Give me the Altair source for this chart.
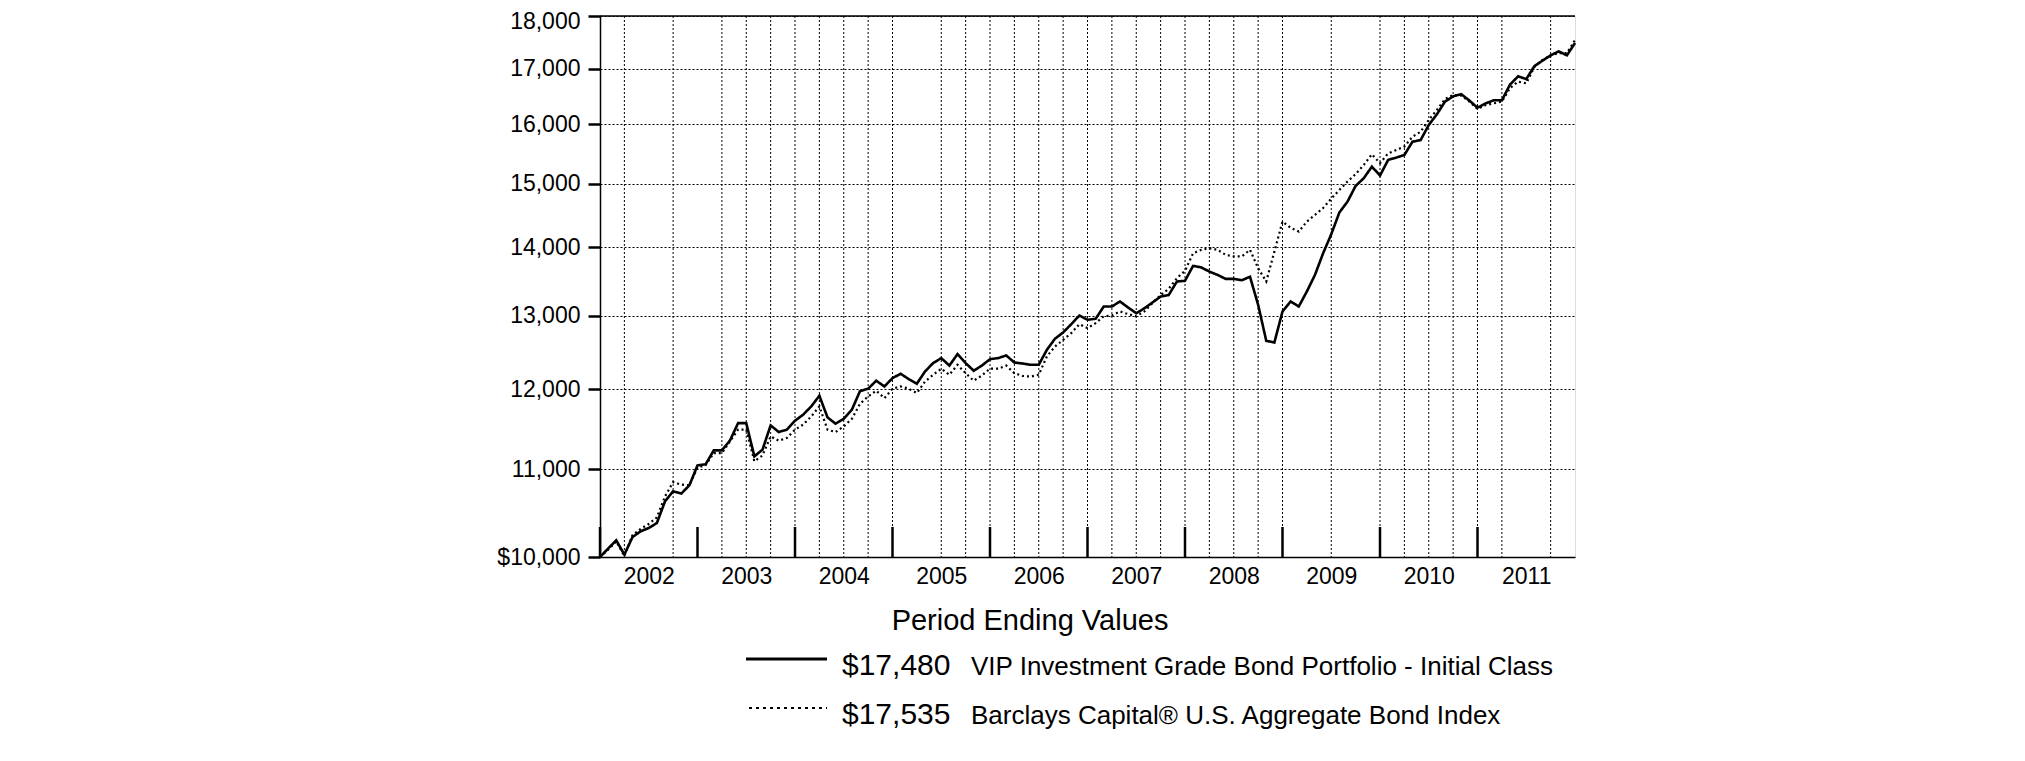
import altair as alt
import pandas as pd

# Month-end dates Dec 2001 .. Dec 2011
months = [p.strftime("%Y-%m") for p in pd.period_range("2001-12", "2011-12", freq="M")]

fund = [10000, 10092, 10183, 10026, 10219, 10283, 10320, 10376, 10623, 10740, 10713, 10810,
        11047, 11060, 11228, 11228, 11350, 11566, 11566, 11155, 11237, 11537, 11454, 11484,
        11596, 11672, 11778, 11915, 11638, 11558, 11620, 11736, 11975, 12006, 12111, 12036,
        12145, 12203, 12132, 12072, 12233, 12345, 12412, 12312, 12466, 12345, 12243, 12312,
        12398, 12412, 12448, 12353, 12340, 12322, 12322, 12525, 12676, 12763, 12878, 13000,
        12940, 12954, 13128, 13128, 13200, 13113, 13033, 13102, 13186, 13271, 13293, 13489,
        13500, 13721, 13697, 13636, 13587, 13528, 13528, 13508, 13560, 13153, 12648, 12625,
        13057, 13200, 13128, 13344, 13588, 13910, 14200, 14540, 14712, 14966, 15091, 15283,
        15135, 15394, 15433, 15478, 15702, 15730, 15990, 16176, 16402, 16494, 16535, 16420,
        16293, 16370, 16425, 16425, 16707, 16859, 16807, 17046, 17148, 17246, 17322, 17246,
        17480]

index = [10000, 10080, 10170, 10010, 10240, 10310, 10365, 10440, 10680, 10848, 10818, 10810,
         11020, 11050, 11195, 11195, 11340, 11484, 11484, 11095, 11166, 11400, 11347, 11380,
         11484, 11547, 11650, 11778, 11484, 11454, 11524, 11620, 11810, 11906, 11980, 11884,
         12006, 12036, 12006, 11950, 12100, 12190, 12270, 12190, 12322, 12210, 12111, 12180,
         12270, 12270, 12312, 12210, 12175, 12165, 12190, 12435, 12570, 12660, 12754, 12878,
         12823, 12892, 12990, 13000, 13057, 13020, 12990, 13057, 13177, 13293, 13383, 13538,
         13647, 13910, 13962, 13987, 13962, 13886, 13862, 13862, 13962, 13686, 13489, 13935,
         14397, 14302, 14241, 14397, 14503, 14610, 14760, 14900, 15036, 15160, 15311, 15489,
         15340, 15505, 15560, 15620, 15788, 15873, 16077, 16253, 16449, 16520, 16510, 16402,
         16270, 16340, 16370, 16402, 16645, 16760, 16730, 17030, 17160, 17246, 17290, 17290,
         17535]

series_names = ["VIP Investment Grade Bond Portfolio -  Initial Class",
                "Barclays Capital\u00ae U.S. Aggregate Bond Index"]
final_values = ["$17,480", "$17,535"]

years = [2002, 2003, 2004, 2005, 2006, 2007, 2008, 2009, 2010, 2011]
y_ticks = [10000, 11000, 12000, 13000, 14000, 15000, 16000, 17000, 18000]
# months carrying a dotted vertical gridline in the original
vgrid_months = ["2002-03", "2002-09", "2003-03", "2003-06", "2003-09", "2003-12", "2004-03",
                "2004-06", "2004-09", "2004-12", "2005-06", "2005-09", "2005-12", "2006-03",
                "2006-06", "2006-09", "2006-12", "2007-03", "2007-06", "2007-09", "2007-12",
                "2008-03", "2008-06", "2008-09", "2008-12", "2009-06", "2009-12", "2010-03",
                "2010-06", "2010-09", "2010-12", "2011-03", "2011-09"]
year_end_months = ["2001-12", "2002-12", "2003-12", "2004-12", "2005-12", "2006-12",
                   "2007-12", "2008-12", "2009-12", "2010-12"]

FONT = "Arial, Liberation Sans, Helvetica, sans-serif"
W, H = 975, 541

midx = {m: i for i, m in enumerate(months)}
df = pd.DataFrame({
    "m": list(range(len(months))) * 2,
    "value": fund + index,
    "series": [series_names[0]] * len(fund) + [series_names[1]] * len(index),
})
grid_df = pd.DataFrame({"m": [midx[m] for m in vgrid_months]})
tick_df = pd.DataFrame({"m": [midx[m] for m in year_end_months]})
label_vals = [midx[f"{y}-06"] for y in years]

xscale = alt.Scale(domain=[0, len(months) - 1], nice=False, zero=False)
yscale = alt.Scale(type="log", domain=[10000, 18000], nice=False)

x_axis = alt.Axis(values=label_vals, labelExpr="toString(2001 + (datum.value + 6) / 12)",
                  ticks=False, grid=False, domainColor="black", domainWidth=1.5,
                  labelFont=FONT, labelFontSize=23, labelColor="black", labelPadding=8,
                  title=None, labelFlush=False)
y_axis = alt.Axis(values=y_ticks,
                  labelExpr="datum.value == 10000 ? '$10,000' : format(datum.value, ',')",
                  labelOffset={"condition": {"test": "datum.value == 18000", "value": 5},
                               "value": 0},
                  tickSize=12, tickWidth=2.5, tickColor="black", domainColor="black",
                  domainWidth=1.5, labelFont=FONT, labelFontSize=23, labelColor="black",
                  labelPadding=8, grid=True, gridDash=[2, 2], gridColor="black",
                  gridWidth=1, title=None)

base = alt.Chart(df)

lines = base.mark_line(color="black").encode(
    x=alt.X("m:Q", scale=xscale, axis=x_axis),
    y=alt.Y("value:Q", scale=yscale, axis=y_axis),
    strokeDash=alt.StrokeDash("series:N", scale=alt.Scale(domain=series_names,
                              range=[[1, 0], [2, 3]]), legend=None),
    strokeWidth=alt.StrokeWidth("series:N", scale=alt.Scale(domain=series_names,
                                range=[2.6, 2.2]), legend=None),
    detail="series:N",
)

vgrid = alt.Chart(grid_df).mark_rule(color="black", strokeWidth=1, strokeDash=[2, 2]).encode(
    x=alt.X("m:Q", scale=xscale, axis=x_axis), y=alt.value(0), y2=alt.value(H))

year_ticks = alt.Chart(tick_df).mark_rule(color="black", strokeWidth=2.5).encode(
    x=alt.X("m:Q", scale=xscale, axis=x_axis), y=alt.value(H - 30), y2=alt.value(H))

top_line = alt.Chart(pd.DataFrame({"a": [0]})).mark_rule(color="black", strokeWidth=1.5).encode(
    y=alt.value(0), x=alt.value(0), x2=alt.value(W))

# legend block below the chart
leg_title = alt.Chart(pd.DataFrame({"t": ["Period Ending Values"]})).mark_text(
    font=FONT, fontSize=29, align="center", baseline="middle", color="black").encode(
    text="t:N", x=alt.value(430), y=alt.value(605))

row_y = [650, 699]
leg_layers = []
for i in range(2):
    row = pd.DataFrame({"val": [final_values[i]], "name": [series_names[i]]})
    leg_layers.append(alt.Chart(row).mark_text(
        font=FONT, fontSize=30, align="left", baseline="middle", color="black").encode(
        text="val:N", x=alt.value(242), y=alt.value(row_y[i])))
    leg_layers.append(alt.Chart(row).mark_text(
        font=FONT, fontSize=26, align="left", baseline="middle", color="black").encode(
        text="name:N", x=alt.value(371), y=alt.value(row_y[i] + 1)))

leg_solid = alt.Chart(pd.DataFrame({"a": [0]})).mark_rule(color="black", strokeWidth=3).encode(
    x=alt.value(146), x2=alt.value(227), y=alt.value(643))
leg_dot = alt.Chart(pd.DataFrame({"a": [0]})).mark_rule(color="black", strokeWidth=2,
                                                        strokeDash=[3, 4]).encode(
    x=alt.value(149), x2=alt.value(227), y=alt.value(692))

chart = alt.layer(vgrid, top_line, year_ticks, lines, leg_title, *leg_layers,
                  leg_solid, leg_dot).properties(
    width=W, height=H,
    autosize=alt.AutoSizeParams(type="none"),
    padding={"left": 592, "top": 8, "right": 440, "bottom": 196},
).configure_view(stroke=None).configure_axisX(grid=False).configure(background="white")

chart.save("out.html", embed_options={"renderer": "svg", "actions": False})
